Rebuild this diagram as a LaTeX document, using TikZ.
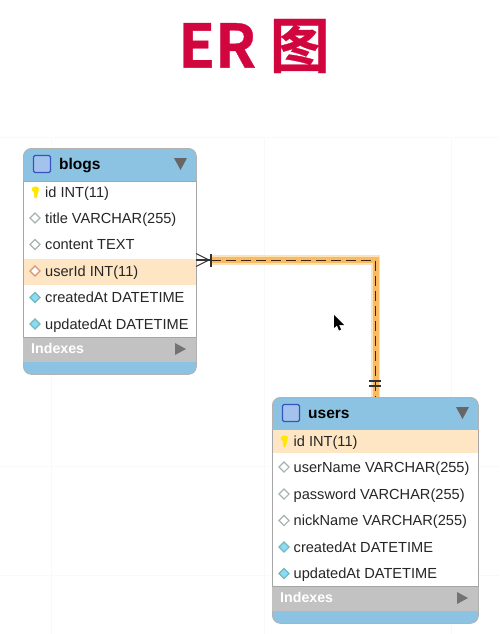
\documentclass[tikz,border=0pt]{standalone}
\usepackage{fontspec}
\setmainfont{Liberation Sans}
\newfontfamily\cjk{Noto Sans CJK SC}[BoldFont={* Bold},BoldFeatures={FakeBold=0.6}]
\definecolor{headblue}{HTML}{8CC2E2}
\definecolor{idxgray}{HTML}{C2C2C2}
\definecolor{rowhl}{HTML}{FEE6C4}
\definecolor{wireglow}{HTML}{F9BA62}
\definecolor{wirehalo}{HTML}{FDE3BA}
\definecolor{titlered}{HTML}{D2063F}
\definecolor{iconblue}{HTML}{3554C0}
\definecolor{iconfill}{HTML}{A4C3EC}
\tikzset{
  every node/.style={inner sep=0pt},
  tablebox/.style={draw=black!30, line width=0.8pt, fill=headblue, rounded corners=8pt, anchor=north west},
  headtxt/.style={font=\bfseries\fontsize{15.5}{15}\selectfont, anchor=base west, text=black},
  rowtxt/.style={font=\fontsize{14.6}{14}\selectfont, anchor=base west, text=black!85},
  idxtxt/.style={font=\bfseries\fontsize{14.2}{14}\selectfont, anchor=base west, text=white},
  colmark/.style={diamond, minimum size=10.5pt, line width=1.1pt},
  plainmark/.style={colmark, draw=teal!30!black!35, fill=white},
  fkmark/.style={colmark, draw=brown!80!red!70, fill=white},
  timemark/.style={colmark, draw=teal!55, fill=cyan!45},
  crowline/.style={line width=1.1pt, draw=black!80},
  gridline/.style={line width=0.5pt, draw=black!2.5}
}
\usetikzlibrary{shapes.geometric}
% one table: name, left, top, width, title
\newcommand{\ertable}[5]{
  \node[tablebox, minimum width=#4pt, minimum height=226pt] (#1) at (#2,#3) {};
  % grey index bar, white body
  \fill[idxgray] (#2,#3+189) rectangle (#2+#4,#3+214);
  \filldraw[fill=white, draw=black!35, line width=1pt] (#2,#3+33) rectangle (#2+#4,#3+189);
  % icon, title, arrows
  \node[draw=iconblue, fill=iconfill, line width=1.3pt, rounded corners=1.5pt, minimum size=17pt] (#1icon) at (#2+19,#3+16) {};
  \node[headtxt] (#1title) at (#2+36,#3+21) {#5};
  \fill[black!60] (#2+#4-22,#3+10) -- (#2+#4-9,#3+10) -- (#2+#4-15.5,#3+22) -- cycle;
  \node[idxtxt] (#1idx) at (#2+8,#3+205.5) {Indexes};
  \fill[black!55] (#2+#4-21,#3+195) -- (#2+#4-10,#3+201) -- (#2+#4-21,#3+207) -- cycle;
}
% key symbol
\newcommand{\keymark}[2]{
  \fill[yellow!90!orange] (#1-2.5,#2-4.5) .. controls (#1+1,#2-7) and (#1+5.5,#2-5) .. (#1+3.5,#2-1) -- (#1+1.5,#2+6) -- (#1-0.5,#2+6) -- (#1-1,#2) .. controls (#1-3.5,#2-1) .. cycle;
}
\begin{document}
\begin{tikzpicture}[x=1pt, y=-1pt]
  \useasboundingbox (0,0) rectangle (499,634);
  % faint canvas grid
  \foreach \gy in {137,466,575} \draw[gridline] (0,\gy) -- (499,\gy);
  \foreach \gx in {51,264,451} \draw[gridline] (\gx,137) -- (\gx,634);

  % heading
  \node[font=\cjk\bfseries\fontsize{60}{60}\selectfont, text=titlered] (heading) at (254,46) {ER 图};

  % blogs
  \ertable{blogs}{23}{148}{173}{blogs}
  \fill[rowhl] (23.5,258.5) rectangle (195.5,284.5);
  \keymark{35}{192}
  \node[rowtxt] (blogsid) at (45,197) {id INT(11)};
  \foreach \n/\ty/\m/\t in {btitle/218/plainmark/title VARCHAR(255),bcontent/244.5/plainmark/content TEXT,buser/271/fkmark/userId INT(11),bcreated/297.5/timemark/createdAt DATETIME,bupdated/324/timemark/updatedAt DATETIME} {
    \node[\m] (\n mark) at (35,\ty) {};
    \node[rowtxt] (\n) at (45,\ty+5) {\t};
  }

  % users
  \ertable{users}{272}{397}{206}{users}
  \fill[rowhl] (272.5,429.5) rectangle (477.5,453);
  \keymark{284}{441}
  \node[rowtxt] (usersid) at (293.5,446) {id INT(11)};
  \foreach \n/\ty/\m/\t in {uname/467/plainmark/userName VARCHAR(255),upass/494/plainmark/password VARCHAR(255),unick/520.5/plainmark/nickName VARCHAR(255),ucreated/547/timemark/createdAt DATETIME,uupdated/573.5/timemark/updatedAt DATETIME} {
    \node[\m] (\n mark) at (284,\ty) {};
    \node[rowtxt] (\n) at (293.5,\ty+5) {\t};
  }

  % relation
  \coordinate (relstart) at (196,260);
  \coordinate (relbar) at (211,260);
  \coordinate (relend) at (375.5,397);
  \draw[wirehalo, line width=9.5pt] (relbar) -| (relend);
  \draw[wireglow, line width=6pt] (relbar) -| (relend);
  \draw[black!70!brown, line width=1pt, dash pattern=on 10pt off 5pt] (relbar) -| (relend);
  \draw[crowline] (relbar) ++(0,-6.5) -- ++(0,13);
  \draw[crowline] (196,253.5) -- (209,260) -- (196,266.5);
  \draw[crowline] (196,260) -- (relbar);
  \draw[crowline] (369,381) -- (381,381);
  \draw[crowline] (369,386) -- (381,386);

  % mouse pointer
  \fill[black] (334,315) -- (334,328) -- (337,325.5) -- (339,330.5) -- (341,329.5) -- (339,325) -- (344,325) -- cycle;
\end{tikzpicture}
\end{document}
